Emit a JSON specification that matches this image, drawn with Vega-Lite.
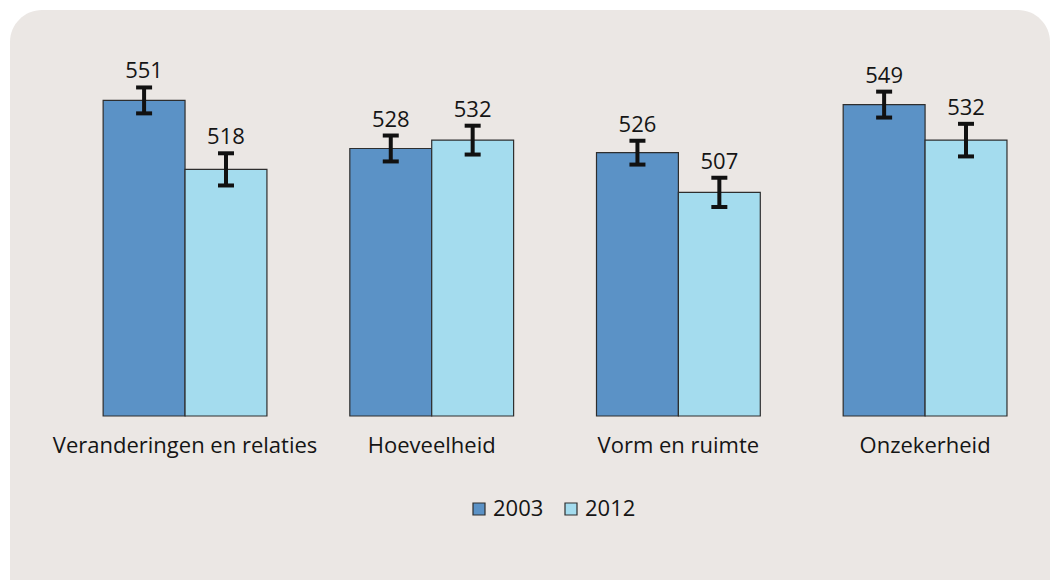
{
  "$schema": "https://vega.github.io/schema/vega-lite/v6.json",
  "autosize": {"type": "none"},
  "padding": {"left": 10, "top": 10, "right": 1, "bottom": 0},
  "width": 1040,
  "height": 700,
  "background": "white",
  "config": {
    "font": "Open Sans",
    "view": {"fill": "#ebe7e4", "stroke": null, "cornerRadius": 32}
  },
  "datasets": {
    "scores": [
      {"cat": "Veranderingen en relaties", "year": "2003", "value": 551, "lo": 544.8, "hi": 557.2},
      {"cat": "Veranderingen en relaties", "year": "2012", "value": 518, "lo": 510.3, "hi": 525.7},
      {"cat": "Hoeveelheid", "year": "2003", "value": 528, "lo": 521.8, "hi": 534.2},
      {"cat": "Hoeveelheid", "year": "2012", "value": 532, "lo": 525.1, "hi": 538.9},
      {"cat": "Vorm en ruimte", "year": "2003", "value": 526, "lo": 520.3, "hi": 531.7},
      {"cat": "Vorm en ruimte", "year": "2012", "value": 507, "lo": 500.0, "hi": 514.0},
      {"cat": "Onzekerheid", "year": "2003", "value": 549, "lo": 542.8, "hi": 555.2},
      {"cat": "Onzekerheid", "year": "2012", "value": 532, "lo": 524.2, "hi": 539.8}
    ],
    "cats": [
      {"cat": "Veranderingen en relaties"},
      {"cat": "Hoeveelheid"},
      {"cat": "Vorm en ruimte"},
      {"cat": "Onzekerheid"}
    ]
  },
  "encoding": {
    "x": {
      "field": "cat", "type": "nominal", "axis": null,
      "scale": {
        "domain": ["Veranderingen en relaties", "Hoeveelheid", "Vorm en ruimte", "Onzekerheid"],
        "paddingInner": 0.336, "paddingOuter": 0.276, "align": 0.684
      }
    }
  },
  "layer": [
    {
      "data": {"name": "scores"},
      "mark": {"type": "bar", "stroke": "#2e2e2e", "strokeWidth": 1.2},
      "encoding": {
        "xOffset": {"field": "year", "type": "nominal", "scale": {"paddingInner": 0, "paddingOuter": 0}},
        "y": {"field": "value", "type": "quantitative", "axis": null, "scale": {"domain": [259.33, 594.26], "nice": false, "zero": false}},
        "y2": {"datum": 400},
        "fill": {
          "field": "year", "type": "nominal",
          "scale": {"domain": ["2003", "2012"], "range": ["#5b92c6", "#a4dcee"]},
          "legend": {
            "title": null, "orient": "none", "direction": "horizontal",
            "legendX": 458, "legendY": 488, "padding": 0,
            "symbolType": "square", "symbolSize": 144,
            "symbolStrokeColor": "#2e2e2e", "symbolStrokeWidth": 1.2,
            "labelFontSize": 22, "labelColor": "#151515", "labelOffset": 3,
            "columnPadding": 16, "labelFont": "Open Sans"
          }
        }
      }
    },
    {
      "data": {"name": "scores"},
      "mark": {"type": "rule", "color": "#111111", "strokeWidth": 4},
      "encoding": {
        "xOffset": {"field": "year", "type": "nominal"},
        "y": {"field": "lo", "type": "quantitative"},
        "y2": {"field": "hi"}
      }
    },
    {
      "data": {"name": "scores"},
      "mark": {"type": "tick", "color": "#111111", "opacity": 1, "thickness": 4, "size": 16, "orient": "horizontal"},
      "encoding": {
        "xOffset": {"field": "year", "type": "nominal"},
        "y": {"field": "lo", "type": "quantitative"}
      }
    },
    {
      "data": {"name": "scores"},
      "mark": {"type": "tick", "color": "#111111", "opacity": 1, "thickness": 4, "size": 16, "orient": "horizontal"},
      "encoding": {
        "xOffset": {"field": "year", "type": "nominal"},
        "y": {"field": "hi", "type": "quantitative"}
      }
    },
    {
      "data": {"name": "scores"},
      "mark": {"type": "text", "fontSize": 22, "color": "#151515", "baseline": "alphabetic", "dy": -9},
      "encoding": {
        "xOffset": {"field": "year", "type": "nominal"},
        "y": {"field": "hi", "type": "quantitative"},
        "text": {"field": "value", "type": "quantitative"}
      }
    },
    {
      "data": {"name": "cats"},
      "mark": {"type": "text", "fontSize": 22, "color": "#151515", "baseline": "alphabetic"},
      "encoding": {
        "y": {"datum": 382.3},
        "text": {"field": "cat", "type": "nominal"}
      }
    }
  ]
}
